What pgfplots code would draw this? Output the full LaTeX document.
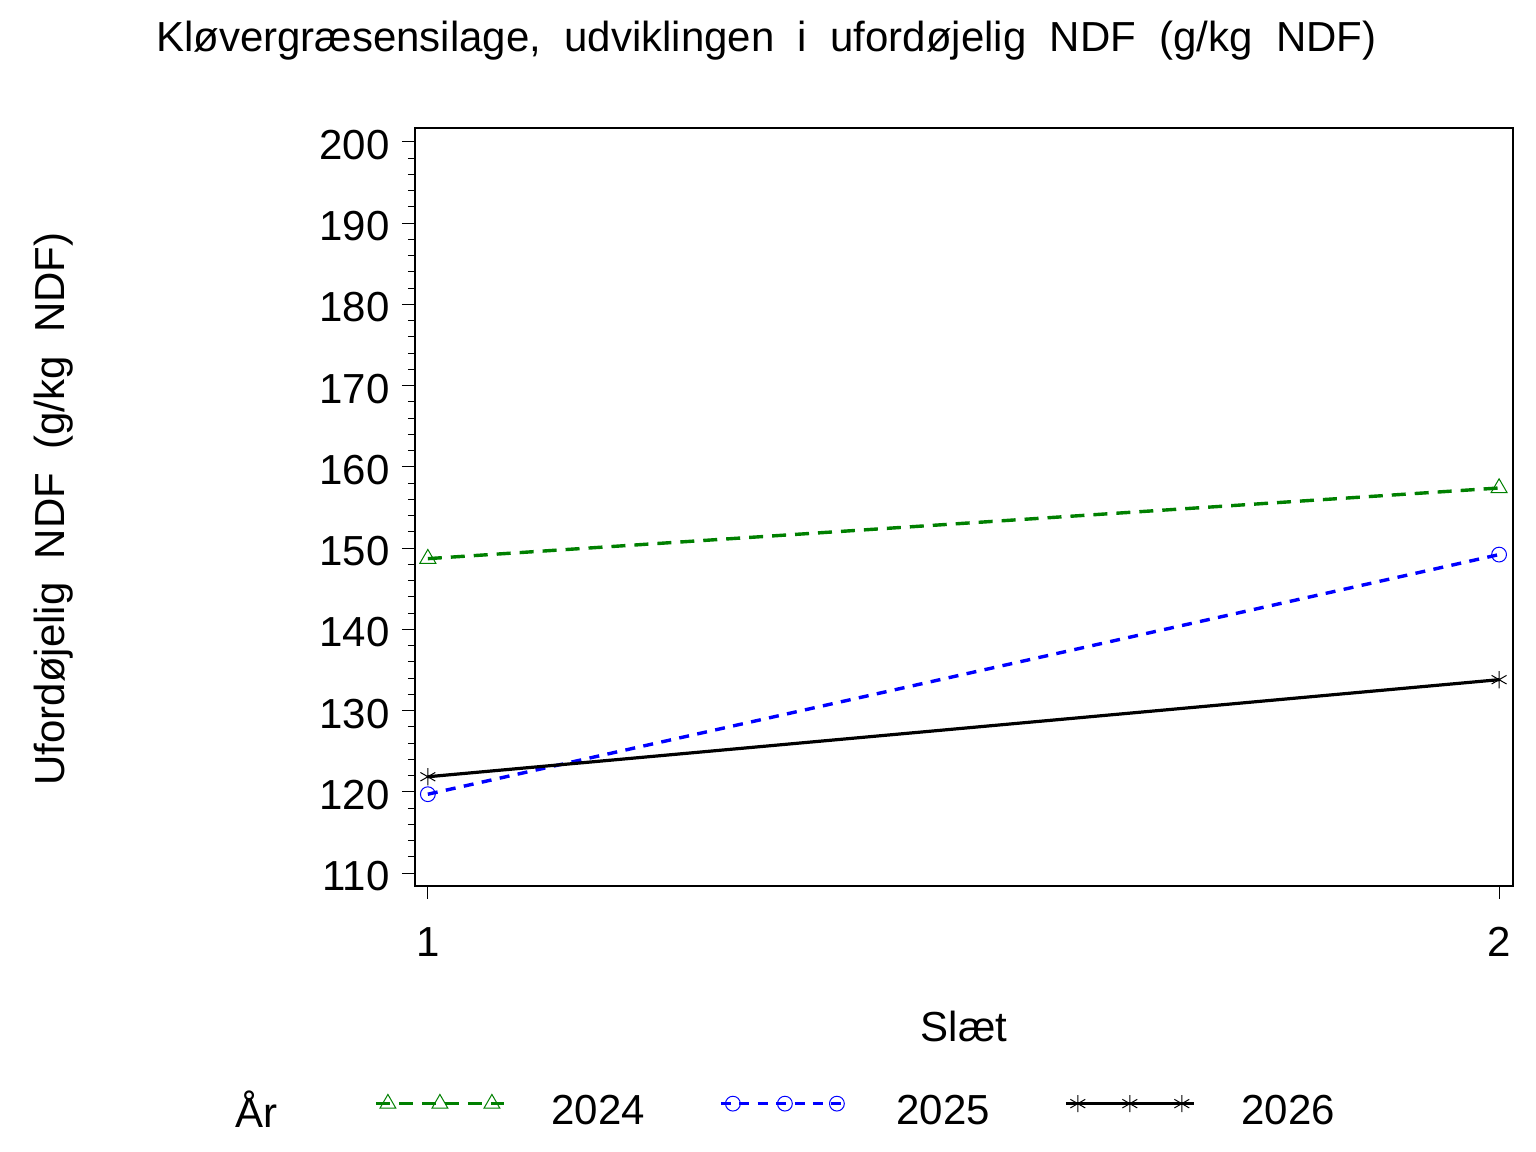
\documentclass[border=0pt]{standalone}
\usepackage{fontspec}
\setmainfont{Liberation Sans}[WordSpace=2]
\usepackage{pgfplots}
\pgfplotsset{compat=1.18}
\definecolor{sasgreen}{RGB}{0,128,0}
\definecolor{sasblue}{RGB}{0,0,255}

\begin{document}
\begin{tikzpicture}[font=\fontsize{21bp}{25bp}\selectfont]
\useasboundingbox (0,0) rectangle (768bp,576bp);
\begin{axis}[
  at={(207.5bp,133bp)}, anchor=south west,
  scale only axis, width=549bp, height=379bp,
  xmin=0.988, xmax=2.013, ymin=108.4, ymax=201.72,
  xtick={1,2}, ytick={110,120,...,200},
  minor y tick num=4,
  tick pos=left, tick align=outside,
  major tick length=6.5bp, minor tick length=3.5bp,
  every tick/.style={black, line width=0.5bp},
  axis line style={line width=0.6bp},
  /pgf/number format/assume math mode=true,
  yticklabel style={inner sep=0pt, xshift=-6bp, yshift=-1.5bp},
  xticklabel style={inner sep=0pt, yshift=-14bp},
  title={Kløvergræsensilage, udviklingen i ufordøjelig NDF (g/kg NDF)},
  title style={at={(0.3201,1.0845)}, anchor=base, inner sep=0pt},
  xlabel={Slæt},
  xlabel style={at={(0.5,-0.2058)}, anchor=base, inner sep=0pt},
  ylabel={Ufordøjelig NDF (g/kg NDF)},
  ylabel style={at={(-0.3188,0.4974)}, anchor=base, inner sep=0pt},
  legend columns=-1,
  legend style={at={(-0.0375,-0.297)}, anchor=west, draw=none, fill=none, inner sep=0pt, column sep=23bp,
    nodes={inner sep=0pt, text width=60.8bp, align=left, yshift=-4bp}},
  legend image code/.code={
    \draw[mark repeat=2, mark phase=2, #1] plot coordinates {(0bp,0bp) (6bp,0bp) (19bp,0bp) (32bp,0bp) (45bp,0bp) (58bp,0bp) (64bp,0bp)};
  },
]
\addplot[sasgreen, line width=1.7bp, dash pattern=on 7bp off 4.5bp, mark=triangle, mark size=4.6bp, mark options={solid, line width=0.5bp}]
  coordinates {(1,148.7) (2,157.4)};
\addlegendentry{2024}
\addplot[sasblue, line width=1.7bp, dash pattern=on 5bp off 4.2bp, mark=o, mark size=3.7bp, mark options={solid, line width=0.5bp}]
  coordinates {(1,119.7) (2,149.2)};
\addlegendentry{2025}
\addplot[black, line width=1.6bp, mark=asterisk, mark size=4.3bp, mark options={line width=0.5bp}]
  coordinates {(1,121.85) (2,133.8)};
\addlegendentry{2026}
\end{axis}
\node[anchor=base west, inner sep=0pt] at (117.5bp,12.5bp) {År};
\end{tikzpicture}
\end{document}
